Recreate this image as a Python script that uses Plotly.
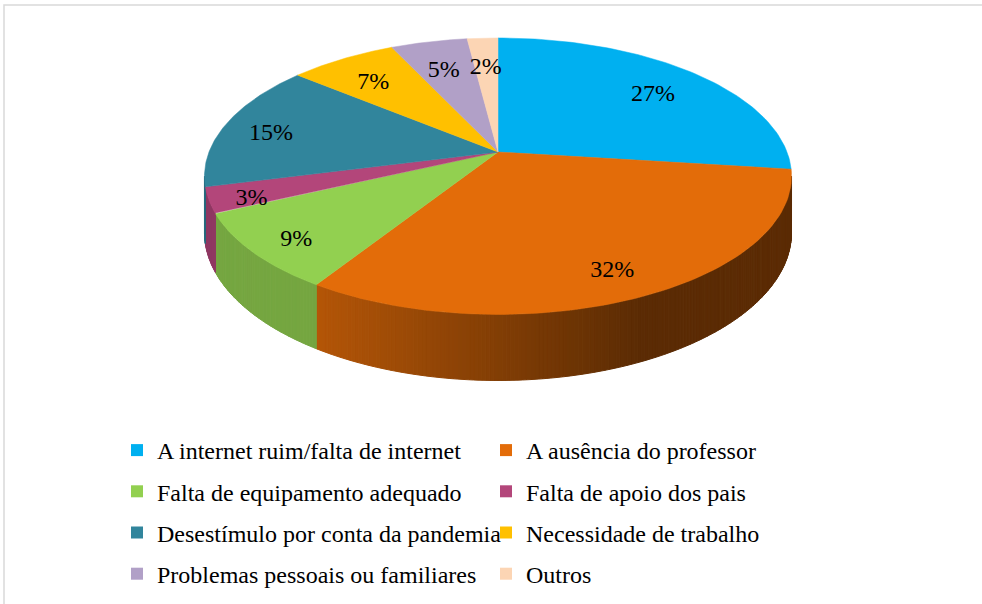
import numpy as np
import plotly.graph_objects as go

categories = ["A internet ruim/falta de internet", "A ausência do professor",
              "Falta de equipamento adequado", "Falta de apoio dos pais",
              "Desestímulo por conta da pandemia", "Necessidade de trabalho",
              "Problemas pessoais ou familiares", "Outros"]
values = [27, 32, 9, 3, 15, 7, 5, 2]
colors = ["#00B0F0", "#E36C09", "#92D050", "#B3467A",
          "#31859C", "#FFC000", "#B1A0C7", "#FCD5B4"]

# pie geometry (pixel units, axes mapped 1:1 to the page)
cx, cy = 498, 152
a, b, e = 289, 134, 0.175   # semi axes and perspective factor
H = 54.5                      # wall thickness
label_r = [0.78, 0.81, 0.84, 0.86, 0.83, 0.78, 0.76, 0.76]  # label distance from centre
FONT = "Times New Roman, Liberation Serif, DejaVu Serif, serif"


def proj(theta, r=1.0):
    p = 1.0 / (1.0 + e * r * np.cos(theta))
    return cx + a * r * np.sin(theta) * p, cy - b * r * np.cos(theta) * p, p


def hex2rgb(h):
    h = h.lstrip("#")
    return [int(h[i:i + 2], 16) for i in (0, 2, 4)]


def shade(col, x):
    s = np.clip(0.8 - 0.4 * (x - 310) / 330, 0.4, 0.8)
    r, g, bb = [int(round(c * s)) for c in hex2rgb(col)]
    return f"rgb({r},{g},{bb})"


total = sum(values)
cum = np.concatenate([[0], np.cumsum(values)]) / total * 2 * np.pi

fig = go.Figure()

# side wall (visible front part only)
th_r = np.arccos(-e)
th_l = 2 * np.pi - th_r
edges = list(np.linspace(th_r, th_l, 241)) + [c for c in cum if th_r < c < th_l]
edges = np.array(sorted(edges))
for t0, t1 in zip(edges[:-1], edges[1:]):
    tm = (t0 + t1) / 2
    i = int(np.searchsorted(cum, tm) - 1)
    ts = np.array([t0, t1])
    x, y, p = proj(ts)
    xs = list(x) + list(x[::-1]) + [x[0]]
    ys = list(y) + list((y + H * p)[::-1]) + [y[0]]
    c = shade(colors[i], x.mean())
    fig.add_trace(go.Scatter(x=xs, y=ys, mode="lines", fill="toself",
                             fillcolor=c, line=dict(color=c, width=1),
                             hoverinfo="skip", showlegend=False))

# top face slices
for i, v in enumerate(values):
    ts = np.linspace(cum[i], cum[i + 1], 80)
    x, y, _ = proj(ts)
    xs = [cx] + list(x) + [cx]
    ys = [cy] + list(y) + [cy]
    fig.add_trace(go.Scatter(x=xs, y=ys, mode="lines", fill="toself",
                             fillcolor=colors[i], line=dict(color=colors[i], width=0.5),
                             hoverinfo="skip", showlegend=False))

# percentage labels
mids = (cum[:-1] + cum[1:]) / 2
lx, ly, _ = proj(mids, np.array(label_r))
fig.add_trace(go.Scatter(x=lx, y=ly + 6, mode="text",
                         text=[f"{v}%" for v in values],
                         textfont=dict(family=FONT, size=24, color="black"),
                         hoverinfo="skip", showlegend=False))

# legend entries, two columns
for i, name in enumerate(categories):
    fig.add_trace(go.Scatter(x=[None], y=[None], mode="markers", name=name,
                             marker=dict(symbol="square", size=12, color=colors[i]),
                             legend="legend" if i % 2 == 0 else "legend2",
                             legendgroup=f"g{i}"))

leg = dict(xanchor="left", yanchor="top", bgcolor="rgba(0,0,0,0)",
           font=dict(family=FONT, size=24, color="black"),
           tracegroupgap=7, itemclick=False, itemdoubleclick=False)

fig.update_layout(
    width=982, height=604,
    margin=dict(l=0, r=0, t=0, b=0),
    paper_bgcolor="white", plot_bgcolor="white",
    font=dict(family=FONT),
    xaxis=dict(range=[0, 982], visible=False, fixedrange=True),
    yaxis=dict(range=[604, 0], visible=False, fixedrange=True),
    showlegend=True,
    legend=dict(leg, x=117 / 982, y=1 - 428 / 604),
    legend2=dict(leg, x=486 / 982, y=1 - 428 / 604),
    shapes=[dict(type="rect", xref="x", yref="y", x0=4, y0=5, x1=1000, y1=620,
                 line=dict(color="#d9d9d9", width=1.5), layer="below")],
)

fig.write_html("out.html", config={"displayModeBar": False},
               post_script="document.body.style.margin='0';")
